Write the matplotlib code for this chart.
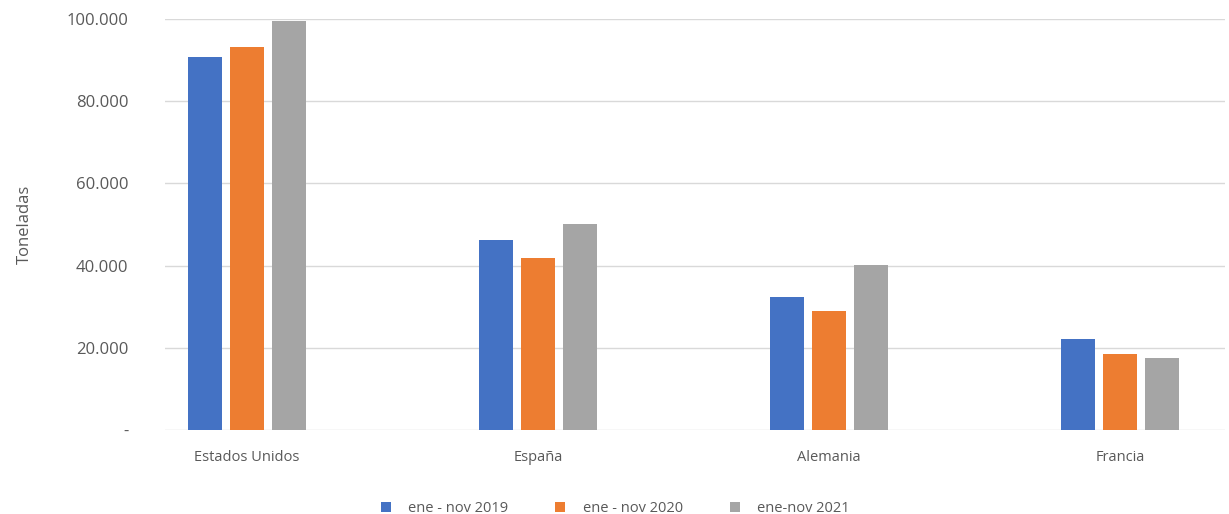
import numpy as np
import matplotlib.pyplot as plt
from matplotlib.ticker import FuncFormatter

paises = ['Estados Unidos', 'España', 'Alemania', 'Francia']
series = ['ene - nov 2019', 'ene - nov 2020', 'ene-nov 2021']
v2019 = [90800, 46200, 32400, 22200]
v2020 = [93300, 41800, 29000, 18600]
v2021 = [99500, 50100, 40100, 17500]
colores = ['#4472C4', '#ED7D31', '#A5A5A5']

plt.rcParams['font.family'] = ['Open Sans', 'DejaVu Sans']

fig = plt.figure(figsize=(12.29, 5.14), dpi=100, facecolor='white')
ax = fig.add_axes([0.134, 0.163, 0.863, 0.8])

x = np.arange(len(paises))
w = 0.117
sep = 0.144
for i, (vals, nombre) in enumerate(zip([v2019, v2020, v2021], series)):
    ax.bar(x + (i - 1) * sep, vals, width=w, color=colores[i], label=nombre, zorder=3)

ax.set_ylim(0, 100000)
ax.set_xlim(-0.282, 3.361)
ax.set_yticks(np.arange(0, 100001, 20000))
ax.yaxis.set_major_formatter(FuncFormatter(lambda v, p: '-' if v == 0 else f'{int(v):,}'.replace(',', '.')))
ax.set_xticks(x)
ax.set_xticklabels(paises)
ax.grid(axis='y', color='#d9d9d9', linewidth=1, zorder=0)
for s in ax.spines.values():
    s.set_visible(False)
ax.tick_params(axis='both', length=0, colors='#595959')
ax.tick_params(axis='y', labelsize=12, pad=26)
ax.tick_params(axis='x', labelsize=10.5, pad=14)
ax.set_ylabel('Toneladas', fontsize=12, color='#595959', labelpad=24)

ax.legend(loc='upper center', bbox_to_anchor=(0.425, -0.14), ncol=3, frameon=False,
          fontsize=10.5, labelcolor='#595959', handlelength=0.7, handleheight=0.7,
          columnspacing=3.2, handletextpad=1.2)

fig.savefig('out.png', dpi=100, facecolor='white')
